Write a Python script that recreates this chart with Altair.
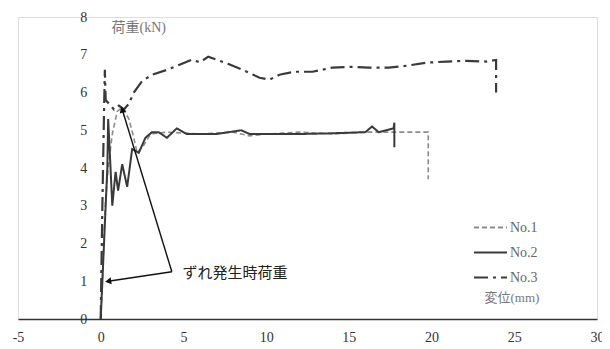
import altair as alt
import pandas as pd

# ---- data ----
no1_x = [0, 0.1, 0.2, 0.3, 0.45, 0.7, 1.0, 1.3, 1.7, 2.0, 2.2, 2.6, 3.0, 4.0, 6.0, 8.0, 9.0, 10.0, 12.0, 14.0, 16.0, 18.0, 19.8, 19.8]
no1_y = [0, 1.0, 2.2, 3.2, 4.0, 4.9, 5.5, 5.6, 5.3, 4.8, 4.4, 4.6, 4.9, 4.95, 4.9, 4.95, 4.85, 4.9, 4.95, 4.9, 4.95, 4.95, 4.95, 3.7]

no2_x = [0, 0.15, 0.3, 0.4, 0.45, 0.55, 0.7, 0.9, 1.05, 1.3, 1.6, 1.9, 2.3, 2.7, 3.1, 3.5, 4.0, 4.6, 5.2, 7.0, 8.5, 9.0, 12.0, 14.0, 16.0, 16.4, 16.8, 17.7, 17.75, 17.75]
no2_y = [0, 1.5, 3.0, 4.0, 5.3, 4.4, 3.0, 3.9, 3.4, 4.1, 3.5, 4.5, 4.4, 4.8, 4.95, 4.95, 4.8, 5.05, 4.9, 4.9, 5.0, 4.9, 4.9, 4.92, 4.95, 5.1, 4.95, 5.05, 5.2, 4.55]

no3_x = [0, 0.1, 0.2, 0.25, 0.3, 0.5, 0.8, 1.1, 1.4, 1.7, 2.0, 2.5, 3.1, 4.0, 4.8, 5.5, 6.0, 6.5, 7.0, 7.8, 8.6, 9.6, 10.2, 10.8, 11.7, 12.8, 14.0, 15.1, 16.2, 17.4, 18.5, 19.7, 20.9, 22.1, 23.3, 23.9, 23.9]
no3_y = [0, 3.0, 5.5, 6.6, 5.8, 5.7, 5.55, 5.65, 5.55, 5.7, 6.0, 6.3, 6.47, 6.6, 6.74, 6.87, 6.8, 6.95, 6.87, 6.74, 6.6, 6.39, 6.34, 6.47, 6.55, 6.55, 6.66, 6.68, 6.66, 6.66, 6.71, 6.79, 6.82, 6.84, 6.82, 6.86, 6.0]

series_names = ["No.1", "No.2", "No.3"]
series_colors = ["#8c8c8c", "#3a3a3a", "#3a3a3a"]
series_dash = [[5, 3], [1, 0], [14, 5, 3, 5]]
series_width = [1.6, 2.0, 2.2]

x_ticks = [-5, 0, 5, 10, 15, 20, 25, 30]
y_ticks = [0, 1, 2, 3, 4, 5, 6, 7, 8]

# annotation arrows (start -> target), data coordinates
arrow_x = [4.3, 4.3]
arrow_y = [1.25, 1.25]
arrow_x2 = [0.45, 1.3]
arrow_y2 = [1.0, 5.55]
arrow_angle = [262, 343]
annot_text = "ずれ発生時荷重"
y_title = "荷重(kN)"
x_title = "変位(mm)"

W, H = 579, 302

rows = []
for name, xs_, ys_, w in zip(series_names, [no1_x, no2_x, no3_x], [no1_y, no2_y, no3_y], series_width):
    for i, (xv, yv) in enumerate(zip(xs_, ys_)):
        rows.append({"series": name, "x": xv, "y": yv, "i": i, "w": w})
df = pd.DataFrame(rows)

xs = alt.Scale(domain=[-5, 30], nice=False, zero=False)
ys = alt.Scale(domain=[0, 8], nice=False, zero=False)

xaxis = alt.Axis(values=x_ticks, title=None, grid=False, ticks=False,
                 domainColor="#333", domainWidth=1.6, labelPadding=11,
                 labelFont="Liberation Serif", labelFontSize=14, labelExpr="'' + datum.value",
                 labelColor="#333", labelOverlap=False, labelFlush=False)
yaxis = alt.Axis(values=y_ticks, title=None, grid=False, ticks=False,
                 domain=False, offset=-W * 5 / 35, labelPadding=14,
                 labelFont="Liberation Serif", labelFontSize=14,
                 labelColor="#333", labelOverlap=False, labelFlush=False)

leg = alt.Legend(orient="none", legendX=455, legendY=193, title=None,
                 symbolType="stroke", symbolSize=1089, symbolStrokeWidth=2,
                 labelFont="Liberation Serif", labelFontSize=14,
                 labelColor="#666", rowPadding=-2, labelOffset=2)

lines = alt.Chart(df).mark_line().encode(
    x=alt.X("x:Q", scale=xs, axis=xaxis),
    y=alt.Y("y:Q", scale=ys, axis=yaxis),
    order="i:Q",
    color=alt.Color("series:N", scale=alt.Scale(domain=series_names, range=series_colors), legend=leg),
    strokeDash=alt.StrokeDash("series:N", scale=alt.Scale(domain=series_names, range=series_dash), legend=leg),
    strokeWidth=alt.StrokeWidth("w:Q", scale=None, legend=None),
)

adf = pd.DataFrame({"x": arrow_x, "y": arrow_y, "x2": arrow_x2, "y2": arrow_y2, "a": arrow_angle})
arrows = alt.Chart(adf).mark_rule(color="#111", strokeWidth=1.4).encode(
    x=alt.X("x:Q", scale=xs, axis=xaxis), y=alt.Y("y:Q", scale=ys, axis=yaxis), x2="x2:Q", y2="y2:Q")
heads = alt.Chart(adf).mark_point(shape="triangle-up", filled=True, color="#111", size=50, opacity=1).encode(
    x=alt.X("x2:Q", scale=xs, axis=xaxis), y=alt.Y("y2:Q", scale=ys, axis=yaxis),
    angle=alt.Angle("a:Q", scale=None))

tdf = pd.DataFrame({"x": [4.95, 0.65, 23.2], "y": [1.22, 7.72, 0.56],
                    "t": [annot_text, y_title, x_title],
                    "s": [15, 14, 13], "c": ["#222", "#777", "#777"]})
texts = alt.Chart(tdf).mark_text(align="left", baseline="middle",
                                 font="Liberation Serif, Noto Sans CJK JP").encode(
    x=alt.X("x:Q", scale=xs, axis=xaxis), y=alt.Y("y:Q", scale=ys, axis=yaxis), text="t:N",
    size=alt.Size("s:Q", scale=None, legend=None),
    color=alt.Color("c:N", scale=None, legend=None))

chart = alt.layer(lines, arrows, heads, texts).properties(
    width=W, height=H, autosize=alt.AutoSizeParams(type="none"),
    padding={"left": 10, "top": 9, "right": 5, "bottom": 28},
).configure_view(strokeWidth=0).configure(background="white")

chart.save("out.html", embed_options={"renderer": "svg", "actions": False})
